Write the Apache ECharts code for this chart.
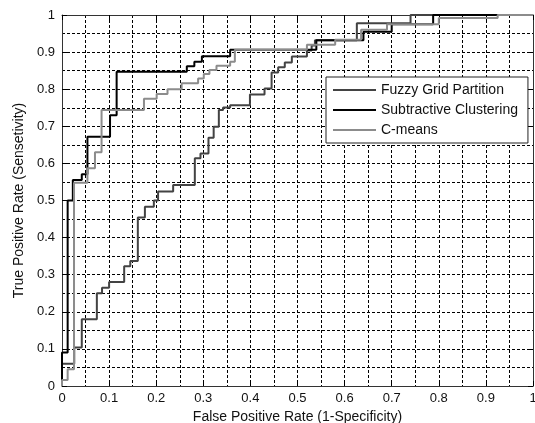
<!DOCTYPE html>
<html>
<head>
<meta charset="utf-8">
<script src="https://cdn.jsdelivr.net/npm/echarts@6/dist/echarts.min.js"></script>
<style>
html,body{margin:0;padding:0;background:#fff;}
#chart{width:535px;height:423px;}
</style>
</head>
<body>
<div id="chart"></div>
<script>
// Series names
const seriesNames = ['Fuzzy Grid Partition', 'Subtractive Clustering', 'C-means'];

// Fuzzy Grid Partition ROC (step corners: move right, then up)
const fuzzyFpr = [0, 0, 0.026, 0.042, 0.074, 0.085, 0.100, 0.132, 0.145, 0.161, 0.176, 0.195, 0.204, 0.236, 0.282, 0.294, 0.311, 0.322, 0.333, 0.342, 0.357, 0.399, 0.430, 0.445, 0.459, 0.473, 0.488, 0.520, 0.530, 0.537, 0.626, 0.740, 1];
const fuzzyTpr = [0, 0.060, 0.104, 0.180, 0.250, 0.265, 0.280, 0.323, 0.337, 0.454, 0.483, 0.500, 0.524, 0.542, 0.614, 0.627, 0.669, 0.699, 0.744, 0.751, 0.757, 0.786, 0.802, 0.845, 0.859, 0.872, 0.888, 0.904, 0.918, 0.932, 0.978, 1.000, 1];

// Subtractive Clustering ROC
const subFpr = [0, 0, 0.012, 0.023, 0.042, 0.054, 0.102, 0.116, 0.265, 0.281, 0.297, 0.357, 0.540, 0.640, 0.700, 0.788, 1];
const subTpr = [0, 0.090, 0.500, 0.555, 0.571, 0.672, 0.730, 0.847, 0.862, 0.874, 0.889, 0.906, 0.932, 0.955, 0.975, 1.000, 1];

// C-means ROC
const cmFpr = [0, 0, 0.012, 0.0255, 0.054, 0.070, 0.084, 0.174, 0.201, 0.224, 0.254, 0.289, 0.301, 0.313, 0.328, 0.357, 0.367, 0.520, 0.580, 0.635, 0.690, 0.800, 0.925, 1];
const cmTpr = [0, 0.016, 0.045, 0.548, 0.587, 0.630, 0.744, 0.774, 0.787, 0.800, 0.816, 0.829, 0.841, 0.852, 0.863, 0.874, 0.906, 0.920, 0.933, 0.960, 0.975, 0.992, 1.000, 1];

// Axis range / tick step
const axisMin = 0, axisMax = 1, axisStep = 0.1;

const FONT = '"Liberation Sans", Arial, sans-serif';
const dashStyle = {color: '#000', width: 1, type: [3, 2]};

function pairs(xs, ys) { return xs.map((x, i) => [x, ys[i]]); }

function mkAxis(pos, labels, margin) {
  return {
    type: 'value', position: pos, min: axisMin, max: axisMax, interval: axisStep,
    axisLine: {show: true, onZero: false, lineStyle: {color: '#333', width: 1}},
    axisTick: {show: true, inside: true, length: 5, lineStyle: {color: '#000'}},
    axisLabel: {show: labels, color: '#111', fontFamily: FONT, fontSize: 13, margin: margin},
    splitLine: {show: labels, lineStyle: dashStyle},
    minorTick: {show: false, splitNumber: 2},
    minorSplitLine: {show: labels, lineStyle: dashStyle}
  };
}

const xBottom = mkAxis('bottom', true, 6);
xBottom.name = 'False Positive Rate (1-Specificity)';
xBottom.nameLocation = 'middle';
xBottom.nameGap = 20;
xBottom.nameTextStyle = {color: '#111', fontFamily: FONT, fontSize: 14};
const yLeft = mkAxis('left', true, 7);
yLeft.name = 'True Positive Rate (Sensetivity)';
yLeft.nameLocation = 'middle';
yLeft.nameGap = 31;
yLeft.nameTextStyle = {color: '#111', fontFamily: FONT, fontSize: 14};

const colors = ['#434343', '#000000', '#8c8c8c'];
const dataSets = [pairs(fuzzyFpr, fuzzyTpr), pairs(subFpr, subTpr), pairs(cmFpr, cmTpr)];

const chart = echarts.init(document.getElementById('chart'), null, {renderer: 'canvas'});
chart.setOption({
  animation: false,
  backgroundColor: '#fff',
  grid: {left: 62, top: 15, width: 471, height: 371, containLabel: false, outerBoundsMode: 'none'},
  xAxis: [xBottom, mkAxis('top', false, 6)],
  yAxis: [yLeft, mkAxis('right', false, 7)],
  legend: {
    orient: 'vertical', left: 326, top: 77,
    data: seriesNames.map(n => ({name: n, icon: 'rect'})),
    backgroundColor: '#fff', borderColor: '#222', borderWidth: 1,
    padding: [5, 10, 5, 7], itemGap: 4, itemWidth: 43, itemHeight: 2,
    textStyle: {color: '#111', fontFamily: FONT, fontSize: 14, lineHeight: 16},
    z: 10
  },
  series: seriesNames.map((name, i) => ({
    name: name, type: 'line', step: 'end', symbol: 'none', showSymbol: false,
    xAxisIndex: 0, yAxisIndex: 0,
    data: dataSets[i],
    lineStyle: {color: colors[i], width: 2},
    itemStyle: {color: colors[i]},
    z: 3 + i
  }))
});
</script>
</body>
</html>
